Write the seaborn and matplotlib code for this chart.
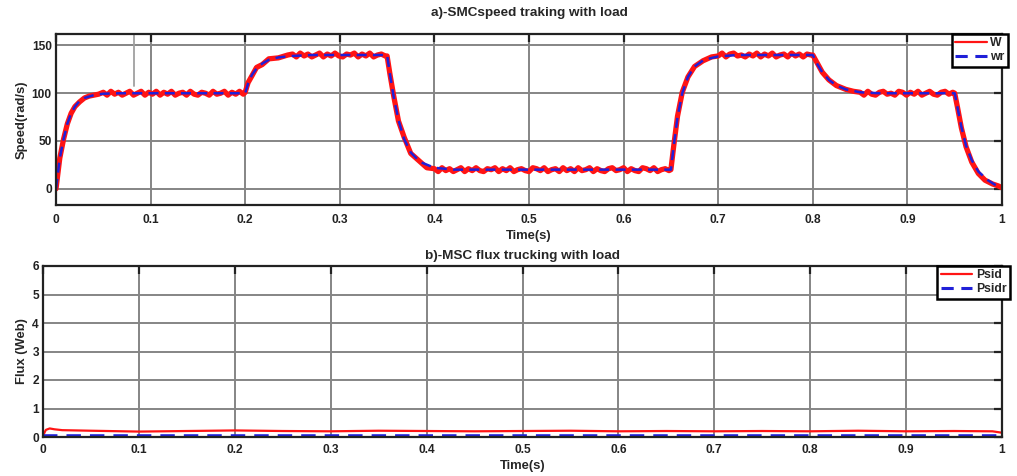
import matplotlib
matplotlib.use("Agg")
import matplotlib.pyplot as plt
import numpy as np
import pandas as pd
import seaborn as sns

rise0_t = [0, 0.004, 0.008, 0.012, 0.016, 0.02, 0.025, 0.03, 0.035, 0.04, 0.045]
rise0_w = [0, 32, 52, 68, 79, 86, 91, 95, 97, 98, 99]
plat1_w = [101, 98, 102, 99, 101, 98, 100, 102, 98, 100, 102, 98, 101, 99, 102, 98, 101, 99, 102,
           98, 100, 101, 98, 102, 99, 98, 101, 100, 98, 102, 99, 100, 102, 98, 101, 99, 102, 99]
rise1_t = [0.2, 0.203, 0.207, 0.212, 0.218, 0.225, 0.235, 0.245]
rise1_w = [101, 111, 118, 127, 130, 136, 137, 140]
plat2_w = [141, 138, 142, 139, 141, 138, 140, 142, 138, 141, 139, 142, 139, 138, 141, 140, 142,
           138, 141, 139, 142, 138, 140, 141, 139]
fall1_t = [0.35, 0.353, 0.357, 0.362, 0.368, 0.375, 0.383, 0.392]
fall1_w = [139, 120, 97, 71, 54, 37, 30, 22]
plat3_w = [21, 18, 22, 19, 21, 18, 20, 22, 18, 21, 19, 22, 19, 18, 21, 20, 22, 18, 21, 19,
           22, 18, 20, 21, 19, 18, 22, 21, 19, 22, 18, 20, 21, 18, 22, 19, 21, 18, 22, 19,
           20, 22, 18, 21, 19, 18, 21, 22, 19, 20, 22, 18, 21, 19, 18, 22, 21, 19, 22, 18,
           20, 21, 19]
rise2_t = [0.65, 0.653, 0.657, 0.662, 0.668, 0.675, 0.684, 0.693]
rise2_w = [20, 45, 76, 101, 117, 128, 134, 138]
plat4_w = [139, 142, 138, 141, 142, 139, 140, 138, 141, 139, 142, 138, 141, 139, 142, 138, 140,
           141, 138, 142, 139, 141, 138, 141, 140]
fall2_t = [0.8, 0.805, 0.81, 0.817, 0.825, 0.835, 0.843]
fall2_w = [140, 131, 122, 114, 108, 104, 102]
plat5_w = [101, 98, 102, 99, 98, 101, 102, 99, 100, 98, 102, 101, 98, 101, 99, 102, 98, 100, 102,
           99, 98, 101, 102, 99, 101]
fall3_t = [0.95, 0.953, 0.957, 0.962, 0.968, 0.975, 0.982, 0.99, 0.996, 1.0]
fall3_w = [100, 85, 64, 44, 28, 16, 9, 5, 3, 1]

# ---- reference speed wr (blue dashed) ----
t_ref = [0, 0.004, 0.008, 0.012, 0.016, 0.02, 0.025, 0.03, 0.04, 0.05, 0.07, 0.2,
         0.203, 0.207, 0.212, 0.218, 0.225, 0.235, 0.25, 0.27, 0.35,
         0.353, 0.357, 0.362, 0.368, 0.375, 0.385, 0.4, 0.42, 0.65,
         0.653, 0.657, 0.662, 0.668, 0.675, 0.685, 0.7, 0.72, 0.8,
         0.805, 0.81, 0.817, 0.825, 0.835, 0.85, 0.87, 0.95,
         0.953, 0.957, 0.962, 0.968, 0.975, 0.985, 0.993, 1.0]
wr_speed = [0, 32, 52, 68, 79, 86, 92, 95, 98, 99.5, 100, 100,
            110, 119, 126, 131, 135, 137.5, 139, 140, 140,
            120, 96, 72, 52, 38, 28, 22, 20, 20,
            45, 75, 100, 117, 128, 135, 138.5, 140, 140,
            130, 122, 114, 108, 104, 101, 100, 100,
            85, 65, 45, 30, 18, 9, 4, 1]

# ---- flux ----
t_flux = [0, 0.003, 0.007, 0.012, 0.02, 0.05, 0.1, 0.15, 0.2, 0.25, 0.3, 0.35, 0.4, 0.45, 0.5,
          0.55, 0.6, 0.65, 0.7, 0.75, 0.8, 0.85, 0.9, 0.95, 0.99, 1.0]
psid = [0.05, 0.25, 0.3, 0.27, 0.24, 0.22, 0.19, 0.21, 0.23, 0.21, 0.2, 0.22, 0.21, 0.2, 0.21,
        0.22, 0.2, 0.21, 0.2, 0.21, 0.2, 0.22, 0.2, 0.21, 0.2, 0.15]
psidr = [0.04] * len(t_flux)

x_ticks = [0, 0.1, 0.2, 0.3, 0.4, 0.5, 0.6, 0.7, 0.8, 0.9, 1]
x_ticklabels = ["0", "0.1", "0.2", "0.3", "0.4", "0.5", "0.6", "0.7", "0.8", "0.9", "1"]

# small grey rendering artefact near the top of panel a)
artefact_x = [0.066, 0.0825, 0.0825]
artefact_y = [161.5, 161.5, 108]

# assemble the W trace (plateaus are evenly sampled between the transitions)
t_w = np.concatenate([rise0_t, np.linspace(0.05, 0.198, len(plat1_w)), rise1_t,
                      np.linspace(0.25, 0.348, len(plat2_w)), fall1_t,
                      np.linspace(0.4, 0.648, len(plat3_w)), rise2_t,
                      np.linspace(0.7, 0.798, len(plat4_w)), fall2_t,
                      np.linspace(0.85, 0.948, len(plat5_w)), fall3_t])
w_speed = np.concatenate([rise0_w, plat1_w, rise1_w, plat2_w, fall1_w, plat3_w,
                          rise2_w, plat4_w, fall2_w, plat5_w, fall3_w])

sns.set_style("white")
plt.rcParams['font.family'] = ['Liberation Sans', 'DejaVu Sans']
plt.rcParams['font.weight'] = 'bold'

fig = plt.figure(figsize=(10.17, 4.76), dpi=100)
ax1 = fig.add_axes([56 / 1017, 1 - 205 / 476, (1002 - 56) / 1017, (205 - 34) / 476])
ax2 = fig.add_axes([43 / 1017, 1 - 437 / 476, (1002 - 43) / 1017, (437 - 266) / 476])

red = "#ff1414"
blue = "#2020d8"
dash = (0, (4, 2.5))

sns.lineplot(x=t_w, y=w_speed, ax=ax1, color=red, linewidth=3.8, label="W", sort=False)
sns.lineplot(x=t_ref, y=wr_speed, ax=ax1, color=blue, linewidth=1.8, label="wr", sort=False,
             linestyle=dash)
ax1.plot(artefact_x, artefact_y, color="#a0a0a0", linewidth=1.3, zorder=1)
sns.lineplot(x=t_flux, y=psid, ax=ax2, color=red, linewidth=1.6, label="Psid", sort=False)
sns.lineplot(x=t_flux, y=psidr, ax=ax2, color=blue, linewidth=2.6, label="Psidr", sort=False,
             linestyle=dash)

ax1.set_ylim(-17, 162)
ax1.set_yticks([0, 50, 100, 150])
ax2.set_ylim(0, 6)
ax2.set_yticks([0, 1, 2, 3, 4, 5, 6])

titles = ["a)-SMCspeed traking with load", "b)-MSC flux trucking with load"]
ylabels = ["Speed(rad/s)", "Flux (Web)"]
title_pads = [13, 5]
tick_pads = [6.5, 5]
leg_right = [1.006, 1.008]
for ax, title, ylab, tpad, kpad, lr in zip((ax1, ax2), titles, ylabels, title_pads, tick_pads, leg_right):
    ax.set_xlim(0, 1)
    ax.set_xticks(x_ticks)
    ax.set_xticklabels(x_ticklabels)
    ax.grid(True, color="#858585", linewidth=1.4)
    ax.set_axisbelow(True)
    ax.tick_params(axis="x", pad=kpad)
    ax.tick_params(axis="y", pad=3)
    ax.tick_params(direction="in", length=6, width=1.6, top=True, right=True,
                   labelsize=8.6, colors="#222222")
    for lab in ax.get_xticklabels() + ax.get_yticklabels():
        lab.set_fontweight("bold")
    for sp in ax.spines.values():
        sp.set_visible(True)
        sp.set_linewidth(1.6)
        sp.set_color("#222222")
    ax.set_title(title, fontsize=9.7, fontweight="bold", pad=tpad)
    ax.set_xlabel("Time(s)", fontsize=9.4, fontweight="bold", labelpad=3)
    ax.set_ylabel(ylab, fontsize=9.4, fontweight="bold", labelpad=3)
    leg = ax.legend(loc="upper right", bbox_to_anchor=(lr, 1.0), fontsize=8.8, frameon=True,
                    fancybox=False, borderaxespad=0.0, handlelength=2.6, handletextpad=0.3,
                    borderpad=0.25, labelspacing=0.2, framealpha=1)
    leg.get_frame().set_edgecolor("black")
    leg.get_frame().set_linewidth(1.8)
    leg.get_lines()[0].set_linewidth(1.6)
    leg.get_lines()[1].set_linewidth(2.2)
    for txt in leg.get_texts():
        txt.set_fontweight("bold")

fig.savefig("out.png", dpi=100)
